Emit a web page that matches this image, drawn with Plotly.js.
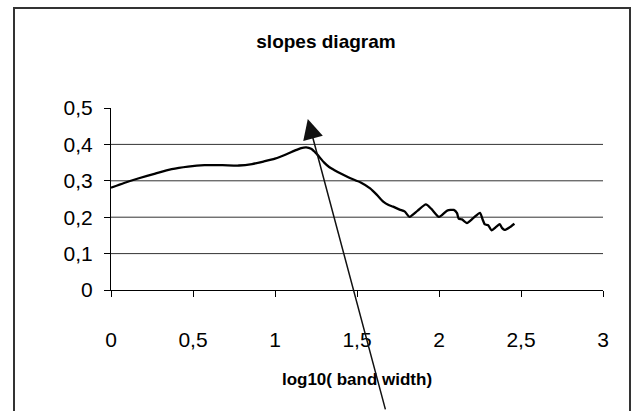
<!DOCTYPE html>
<html>
<head>
<meta charset="utf-8">
<script src="https://cdn.plot.ly/plotly-3.0.1.min.js"></script>
<style>html,body{margin:0;padding:0;background:#fff;}#chart{width:638px;height:411px;}</style>
</head>
<body>
<div id="chart"></div>
<script>
// slope vs log10(band width)
const logBandWidth = [0.00,0.08,0.17,0.27,0.37,0.47,0.57,0.68,0.78,0.86,0.93,1.00,1.07,1.12,1.16,1.19,1.22,1.25,1.30,1.33,1.36,1.41,1.46,1.52,1.58,1.62,1.66,1.69,1.72,1.76,1.79,1.82,1.87,1.92,1.955,2.00,2.05,2.09,2.11,2.12,2.14,2.17,2.21,2.25,2.265,2.28,2.30,2.32,2.35,2.37,2.385,2.40,2.43,2.46];
const slope = [0.281,0.294,0.307,0.320,0.332,0.339,0.343,0.343,0.342,0.346,0.353,0.361,0.373,0.383,0.390,0.392,0.388,0.376,0.350,0.338,0.330,0.318,0.307,0.296,0.279,0.262,0.243,0.234,0.229,0.221,0.216,0.201,0.218,0.235,0.222,0.201,0.218,0.220,0.211,0.196,0.194,0.184,0.198,0.212,0.195,0.180,0.178,0.164,0.174,0.181,0.170,0.165,0.172,0.182];
const gridValues = [0.1,0.2,0.3,0.4];
const chartTitle = 'slopes diagram';
const xTitle = 'log10( band width)';
const arrowTip = {x: 1.20, y: 0.47};

const FONT = 'Liberation Sans, Arial, sans-serif';

const shapes = gridValues.map(v => ({
  type: 'line', xref: 'x', yref: 'y', x0: 0, x1: 3, y0: v, y1: v,
  line: {color: '#333', width: 1}, layer: 'below'
}));
// outer chart border (extends past the bottom edge)
shapes.push({
  type: 'rect', xref: 'paper', yref: 'paper',
  x0: (14 - 111) / 492, x1: (630 - 111) / 492,
  y0: (290 - 430) / 182, y1: (290 - 8) / 182,
  line: {color: '#333', width: 2}, fillcolor: 'rgba(0,0,0,0)'
});

const data = [{
  type: 'scatter', mode: 'lines',
  x: logBandWidth, y: slope,
  line: {color: '#000', width: 2.3, shape: 'spline', smoothing: 0.6},
  hoverinfo: 'skip'
}];

const layout = {
  width: 638, height: 411,
  margin: {l: 111, r: 35, t: 108, b: 121},
  paper_bgcolor: '#fff', plot_bgcolor: '#fff',
  separators: ', ',
  showlegend: false,
  font: {family: FONT, color: '#000'},
  title: {
    text: chartTitle,
    font: {family: FONT, size: 19, weight: 'bold', color: '#000'},
    x: 326 / 638, xanchor: 'center', xref: 'container',
    y: 1 - 41 / 411, yanchor: 'middle', yref: 'container'
  },
  xaxis: {
    range: [0, 3], dtick: 0.5, tick0: 0,
    showline: true, linecolor: '#000', linewidth: 1,
    ticks: 'outside', ticklen: 6, tickcolor: '#000', tickwidth: 1,
    showgrid: false, zeroline: false,
    tickfont: {family: FONT, size: 21, color: '#000'},
    ticklabelstandoff: 25,
    title: {text: xTitle, font: {family: FONT, size: 17, weight: 'bold', color: '#000'}, standoff: 22}
  },
  yaxis: {
    range: [0, 0.5], dtick: 0.1, tick0: 0,
    showline: true, linecolor: '#000', linewidth: 1,
    ticks: 'outside', ticklen: 6, tickcolor: '#000', tickwidth: 1,
    showgrid: false, zeroline: false,
    tickfont: {family: FONT, size: 21, color: '#000'},
    ticklabelstandoff: 7
  },
  shapes: shapes,
  annotations: [{
    x: arrowTip.x, y: arrowTip.y, xref: 'x', yref: 'y',
    text: '', showarrow: true,
    ax: 78, ay: 292, axref: 'pixel', ayref: 'pixel',
    arrowhead: 2, arrowsize: 2.7, arrowwidth: 1.5, arrowcolor: '#111',
    standoff: 0, startstandoff: 0
  }]
};

Plotly.newPlot('chart', data, layout, {staticPlot: true, displayModeBar: false});
</script>
</body>
</html>
